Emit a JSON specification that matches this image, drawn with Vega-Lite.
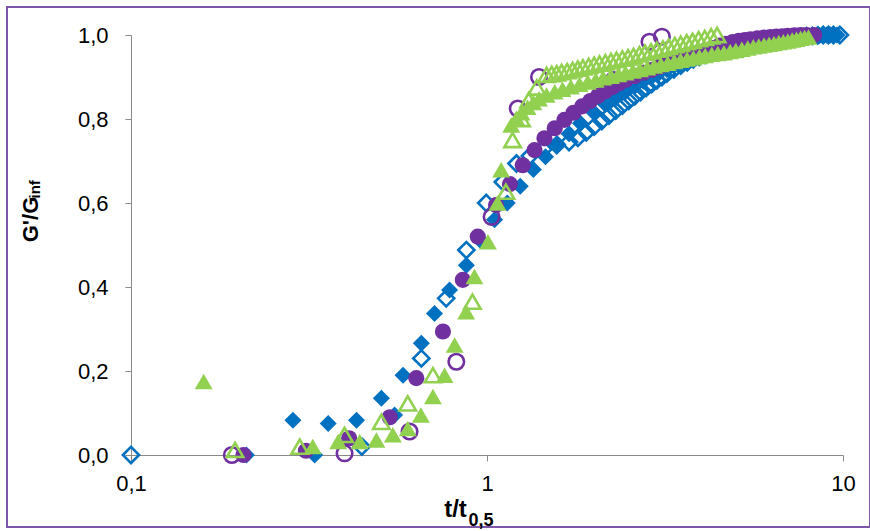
{
  "$schema": "https://vega.github.io/schema/vega-lite/v6.json",
  "width": 863,
  "height": 520,
  "autosize": {"type": "none"},
  "padding": {"left": 7, "top": 7, "right": 0, "bottom": 4},
  "background": "white",
  "config": {
    "view": {"stroke": "#7F57A8", "strokeWidth": 2},
    "axis": {
      "domainColor": "#898989", "tickColor": "#898989", "tickSize": 6, "grid": false,
      "labelFont": "Liberation Sans", "labelFontSize": 22, "labelColor": "#000000",
      "labelOverlap": false, "labelBound": false,
      "titleFont": "Liberation Sans", "titleFontWeight": "bold", "titleColor": "#000000"
    }
  },
  "data": {"values": [
    {"s":"bf","x":0.211,"y":0.0},{"s":"bf","x":0.285,"y":0.083},{"s":"bf","x":0.328,"y":0.0},{"s":"bf","x":0.358,"y":0.075},{"s":"bf","x":0.43,"y":0.083},{"s":"bf","x":0.505,"y":0.135},{"s":"bf","x":0.55,"y":0.095},{"s":"bf","x":0.581,"y":0.19},{"s":"bf","x":0.654,"y":0.266},{"s":"bf","x":0.712,"y":0.337},{"s":"bf","x":0.785,"y":0.393},{"s":"bf","x":0.875,"y":0.452},{"s":"bf","x":0.96,"y":0.51},{"s":"bf","x":1.05,"y":0.56},{"s":"bf","x":1.14,"y":0.6},{"s":"bf","x":1.24,"y":0.64},{"s":"bf","x":1.35,"y":0.68},{"s":"bf","x":1.46,"y":0.71},{"s":"bf","x":1.58,"y":0.74},{"s":"bf","x":1.7,"y":0.765},{"s":"bf","x":1.83,"y":0.79},{"s":"bf","x":2.0,"y":0.815},{"s":"bf","x":2.15,"y":0.835},{"s":"bf","x":2.3,"y":0.85},{"s":"bf","x":2.45,"y":0.865},{"s":"bf","x":2.6,"y":0.878},{"s":"bf","x":2.75,"y":0.89},{"s":"bf","x":2.9,"y":0.9},{"s":"bf","x":3.05,"y":0.91},{"s":"bf","x":3.2,"y":0.918},{"s":"bf","x":3.35,"y":0.926},{"s":"bf","x":3.5,"y":0.933},{"s":"bf","x":3.65,"y":0.939},{"s":"bf","x":3.8,"y":0.944},{"s":"bf","x":3.95,"y":0.949},{"s":"bf","x":4.1,"y":0.953},{"s":"bf","x":4.25,"y":0.957},{"s":"bf","x":4.4,"y":0.961},{"s":"bf","x":4.55,"y":0.964},{"s":"bf","x":4.7,"y":0.967},{"s":"bf","x":4.85,"y":0.97},{"s":"bf","x":5.0,"y":0.972},{"s":"bf","x":5.2,"y":0.975},{"s":"bf","x":5.4,"y":0.977},{"s":"bf","x":5.6,"y":0.979},{"s":"bf","x":5.8,"y":0.981},{"s":"bf","x":6.0,"y":0.983},{"s":"bf","x":6.2,"y":0.985},{"s":"bf","x":6.4,"y":0.986},{"s":"bf","x":6.6,"y":0.988},{"s":"bf","x":6.8,"y":0.989},{"s":"bf","x":7.0,"y":0.99},{"s":"bf","x":7.2,"y":0.991},{"s":"bf","x":7.4,"y":0.993},{"s":"bf","x":7.6,"y":0.994},{"s":"bf","x":7.8,"y":0.995},{"s":"bf","x":8.0,"y":0.996},{"s":"bf","x":8.2,"y":0.997},{"s":"bf","x":8.4,"y":0.998},{"s":"bf","x":8.6,"y":0.999},{"s":"bf","x":8.8,"y":1.0},{"s":"bf","x":9.0,"y":1.0},{"s":"bf","x":9.2,"y":1.0},{"s":"bf","x":9.4,"y":1.0},{"s":"bf","x":9.62,"y":1.0},
    {"s":"bo","x":0.1,"y":0.0},{"s":"bo","x":0.445,"y":0.02},{"s":"bo","x":0.654,"y":0.23},{"s":"bo","x":0.768,"y":0.373},{"s":"bo","x":0.875,"y":0.488},{"s":"bo","x":0.995,"y":0.6},{"s":"bo","x":1.108,"y":0.65},{"s":"bo","x":1.21,"y":0.694},{"s":"bo","x":1.32,"y":0.712},{"s":"bo","x":1.44,"y":0.728},{"s":"bo","x":1.57,"y":0.738},{"s":"bo","x":1.7,"y":0.745},{"s":"bo","x":1.8,"y":0.755},{"s":"bo","x":1.9,"y":0.768},{"s":"bo","x":2.0,"y":0.782},{"s":"bo","x":2.1,"y":0.795},{"s":"bo","x":2.2,"y":0.808},{"s":"bo","x":2.3,"y":0.82},{"s":"bo","x":2.4,"y":0.832},{"s":"bo","x":2.5,"y":0.843},{"s":"bo","x":2.6,"y":0.854},{"s":"bo","x":2.7,"y":0.864},{"s":"bo","x":2.8,"y":0.874},{"s":"bo","x":2.9,"y":0.883},{"s":"bo","x":3.0,"y":0.892},{"s":"bo","x":3.1,"y":0.9},{"s":"bo","x":3.2,"y":0.908},{"s":"bo","x":3.35,"y":0.918},{"s":"bo","x":3.5,"y":0.927},{"s":"bo","x":3.65,"y":0.935},{"s":"bo","x":3.8,"y":0.942},{"s":"bo","x":3.95,"y":0.948},{"s":"bo","x":4.1,"y":0.953},{"s":"bo","x":4.3,"y":0.959},{"s":"bo","x":4.5,"y":0.964},{"s":"bo","x":4.7,"y":0.968},{"s":"bo","x":4.9,"y":0.972},{"s":"bo","x":5.1,"y":0.975},{"s":"bo","x":5.3,"y":0.977},{"s":"bo","x":5.5,"y":0.979},{"s":"bo","x":5.8,"y":0.982},{"s":"bo","x":6.1,"y":0.985},{"s":"bo","x":6.4,"y":0.987},{"s":"bo","x":6.7,"y":0.989},{"s":"bo","x":7.0,"y":0.991},{"s":"bo","x":7.3,"y":0.993},{"s":"bo","x":7.6,"y":0.995},{"s":"bo","x":7.9,"y":0.997},{"s":"bo","x":8.2,"y":0.998},{"s":"bo","x":8.5,"y":0.999},{"s":"bo","x":8.8,"y":1.0},{"s":"bo","x":9.1,"y":1.0},{"s":"bo","x":9.4,"y":1.0},{"s":"bo","x":9.8,"y":1.0},
    {"s":"pf","x":0.207,"y":0.0},{"s":"pf","x":0.31,"y":0.01},{"s":"pf","x":0.41,"y":0.04},{"s":"pf","x":0.533,"y":0.09},{"s":"pf","x":0.633,"y":0.183},{"s":"pf","x":0.752,"y":0.294},{"s":"pf","x":0.855,"y":0.417},{"s":"pf","x":0.942,"y":0.52},{"s":"pf","x":1.06,"y":0.595},{"s":"pf","x":1.16,"y":0.645},{"s":"pf","x":1.26,"y":0.69},{"s":"pf","x":1.36,"y":0.726},{"s":"pf","x":1.45,"y":0.754},{"s":"pf","x":1.55,"y":0.778},{"s":"pf","x":1.65,"y":0.798},{"s":"pf","x":1.75,"y":0.815},{"s":"pf","x":1.85,"y":0.83},{"s":"pf","x":1.95,"y":0.843},{"s":"pf","x":2.05,"y":0.855},{"s":"pf","x":2.15,"y":0.866},{"s":"pf","x":2.25,"y":0.876},{"s":"pf","x":2.35,"y":0.885},{"s":"pf","x":2.45,"y":0.893},{"s":"pf","x":2.6,"y":0.902},{"s":"pf","x":2.75,"y":0.91},{"s":"pf","x":2.9,"y":0.917},{"s":"pf","x":3.05,"y":0.924},{"s":"pf","x":3.2,"y":0.93},{"s":"pf","x":3.35,"y":0.936},{"s":"pf","x":3.5,"y":0.942},{"s":"pf","x":3.7,"y":0.949},{"s":"pf","x":3.9,"y":0.956},{"s":"pf","x":4.1,"y":0.963},{"s":"pf","x":4.3,"y":0.969},{"s":"pf","x":4.5,"y":0.975},{"s":"pf","x":4.7,"y":0.979},{"s":"pf","x":4.9,"y":0.983},{"s":"pf","x":5.1,"y":0.986},{"s":"pf","x":5.3,"y":0.988},{"s":"pf","x":5.5,"y":0.99},{"s":"pf","x":5.75,"y":0.992},{"s":"pf","x":6.0,"y":0.994},{"s":"pf","x":6.25,"y":0.995},{"s":"pf","x":6.5,"y":0.996},{"s":"pf","x":6.75,"y":0.997},{"s":"pf","x":7.0,"y":0.998},{"s":"pf","x":7.3,"y":0.999},{"s":"pf","x":7.6,"y":1.0},{"s":"pf","x":7.9,"y":1.0},{"s":"pf","x":8.3,"y":1.0},
    {"s":"po","x":0.192,"y":0.0},{"s":"po","x":0.398,"y":0.004},{"s":"po","x":0.606,"y":0.056},{"s":"po","x":0.82,"y":0.222},{"s":"po","x":1.03,"y":0.567},{"s":"po","x":1.22,"y":0.825},{"s":"po","x":1.4,"y":0.9},{"s":"po","x":2.11,"y":0.874},{"s":"po","x":2.27,"y":0.893},{"s":"po","x":2.86,"y":0.984},{"s":"po","x":3.1,"y":0.996},
    {"s":"gf","x":0.16,"y":0.175},{"s":"gf","x":0.324,"y":0.02},{"s":"gf","x":0.382,"y":0.032},{"s":"gf","x":0.439,"y":0.032},{"s":"gf","x":0.489,"y":0.036},{"s":"gf","x":0.544,"y":0.048},{"s":"gf","x":0.599,"y":0.063},{"s":"gf","x":0.652,"y":0.095},{"s":"gf","x":0.705,"y":0.139},{"s":"gf","x":0.76,"y":0.19},{"s":"gf","x":0.811,"y":0.262},{"s":"gf","x":0.874,"y":0.341},{"s":"gf","x":0.922,"y":0.425},{"s":"gf","x":1.006,"y":0.508},{"s":"gf","x":1.07,"y":0.6},{"s":"gf","x":1.096,"y":0.679},{"s":"gf","x":1.17,"y":0.786},{"s":"gf","x":1.21,"y":0.802},{"s":"gf","x":1.25,"y":0.815},{"s":"gf","x":1.3,"y":0.828},{"s":"gf","x":1.35,"y":0.839},{"s":"gf","x":1.4,"y":0.848},{"s":"gf","x":1.47,"y":0.857},{"s":"gf","x":1.55,"y":0.865},{"s":"gf","x":1.63,"y":0.871},{"s":"gf","x":1.72,"y":0.877},{"s":"gf","x":1.82,"y":0.883},{"s":"gf","x":1.92,"y":0.888},{"s":"gf","x":2.02,"y":0.893},{"s":"gf","x":2.12,"y":0.898},{"s":"gf","x":2.23,"y":0.902},{"s":"gf","x":2.34,"y":0.906},{"s":"gf","x":2.45,"y":0.91},{"s":"gf","x":2.57,"y":0.914},{"s":"gf","x":2.69,"y":0.918},{"s":"gf","x":2.82,"y":0.922},{"s":"gf","x":2.95,"y":0.926},{"s":"gf","x":3.08,"y":0.93},{"s":"gf","x":3.22,"y":0.933},{"s":"gf","x":3.36,"y":0.937},{"s":"gf","x":3.5,"y":0.94},{"s":"gf","x":3.65,"y":0.943},{"s":"gf","x":3.8,"y":0.946},{"s":"gf","x":3.95,"y":0.949},{"s":"gf","x":4.1,"y":0.951},{"s":"gf","x":4.28,"y":0.954},{"s":"gf","x":4.45,"y":0.956},{"s":"gf","x":4.63,"y":0.958},{"s":"gf","x":4.82,"y":0.961},{"s":"gf","x":5.0,"y":0.963},{"s":"gf","x":5.2,"y":0.966},{"s":"gf","x":5.4,"y":0.969},{"s":"gf","x":5.6,"y":0.972},{"s":"gf","x":5.8,"y":0.974},{"s":"gf","x":6.0,"y":0.976},{"s":"gf","x":6.2,"y":0.978},{"s":"gf","x":6.4,"y":0.98},{"s":"gf","x":6.6,"y":0.982},{"s":"gf","x":6.8,"y":0.984},{"s":"gf","x":7.0,"y":0.986},{"s":"gf","x":7.2,"y":0.988},{"s":"gf","x":7.4,"y":0.99},{"s":"gf","x":7.6,"y":0.992},{"s":"gf","x":7.8,"y":0.994},{"s":"gf","x":8.0,"y":0.995},
    {"s":"go","x":0.196,"y":0.012},{"s":"go","x":0.298,"y":0.02},{"s":"go","x":0.398,"y":0.048},{"s":"go","x":0.505,"y":0.079},{"s":"go","x":0.599,"y":0.123},{"s":"go","x":0.705,"y":0.19},{"s":"go","x":0.91,"y":0.365},{"s":"go","x":1.13,"y":0.627},{"s":"go","x":1.18,"y":0.75},{"s":"go","x":1.25,"y":0.8},{"s":"go","x":1.31,"y":0.845},{"s":"go","x":1.38,"y":0.875},{"s":"go","x":1.47,"y":0.905},{"s":"go","x":1.52,"y":0.907},{"s":"go","x":1.57,"y":0.909},{"s":"go","x":1.62,"y":0.912},{"s":"go","x":1.68,"y":0.914},{"s":"go","x":1.74,"y":0.917},{"s":"go","x":1.8,"y":0.92},{"s":"go","x":1.86,"y":0.923},{"s":"go","x":1.93,"y":0.926},{"s":"go","x":2.0,"y":0.929},{"s":"go","x":2.07,"y":0.932},{"s":"go","x":2.15,"y":0.935},{"s":"go","x":2.23,"y":0.938},{"s":"go","x":2.31,"y":0.941},{"s":"go","x":2.4,"y":0.944},{"s":"go","x":2.49,"y":0.947},{"s":"go","x":2.58,"y":0.95},{"s":"go","x":2.68,"y":0.954},{"s":"go","x":2.78,"y":0.958},{"s":"go","x":2.89,"y":0.961},{"s":"go","x":3.0,"y":0.965},{"s":"go","x":3.12,"y":0.968},{"s":"go","x":3.24,"y":0.972},{"s":"go","x":3.37,"y":0.976},{"s":"go","x":3.5,"y":0.979},{"s":"go","x":3.64,"y":0.983},{"s":"go","x":3.78,"y":0.986},{"s":"go","x":3.93,"y":0.99},{"s":"go","x":4.09,"y":0.993},{"s":"go","x":4.26,"y":0.997},{"s":"go","x":4.43,"y":1.0}
  ]},
  "layer": [
    {
      "transform": [{"filter": "datum.s === 'bf'"}],
      "mark": {"type": "point", "shape": "diamond", "filled": true, "color": "#0070C0", "size": 290, "opacity": 1},
      "encoding": {
        "x": {"field": "x", "type": "quantitative",
              "scale": {"type": "log", "domain": [0.1, 10], "range": [124, 836], "nice": false},
              "axis": {"orient": "bottom", "offset": -72, "values": [0.1, 1, 10],
                       "labelExpr": "replace(format(datum.value, '~g'), '.', ',')",
                       "labelFlush": false, "labelPadding": 12,
                       "title": "t/t", "titleFontSize": 24, "titleAlign": "center", "titleBaseline": "alphabetic",
                       "titleX": 448, "titleY": 61}},
        "y": {"field": "y", "type": "quantitative",
              "scale": {"domain": [0, 1], "range": [448, 28], "nice": false, "zero": false},
              "axis": {"orient": "left", "offset": -124, "values": [0, 0.2, 0.4, 0.6, 0.8, 1],
                       "labelExpr": "replace(format(datum.value, '.1f'), '.', ',')",
                       "labelPadding": 17,
                       "title": "G'/G", "titleFontSize": 22, "titleAngle": 270, "titleAlign": "center", "titleBaseline": "alphabetic",
                       "titleX": -94, "titleY": 212}}
      }
    },
    {
      "transform": [{"filter": "datum.s === 'bo'"}],
      "mark": {"type": "point", "shape": "diamond", "filled": false, "color": "#0070C0", "size": 260, "strokeWidth": 2.6, "opacity": 1},
      "encoding": {
        "x": {"field": "x", "type": "quantitative",
              "scale": {"type": "log", "domain": [0.1, 10], "range": [124, 836], "nice": false},
              "axis": {"orient": "bottom", "offset": -72, "domain": false, "ticks": false, "labels": false,
                       "title": "0,5", "titleFontSize": 18, "titleAlign": "left", "titleBaseline": "alphabetic",
                       "titleX": 461, "titleY": 70}},
        "y": {"field": "y", "type": "quantitative",
              "scale": {"domain": [0, 1], "range": [448, 28], "nice": false, "zero": false},
              "axis": null}
      }
    },
    {
      "transform": [{"filter": "datum.s === 'pf'"}],
      "mark": {"type": "point", "shape": "circle", "filled": true, "color": "#7030A0", "size": 260, "opacity": 1},
      "encoding": {
        "x": {"field": "x", "type": "quantitative",
              "scale": {"type": "log", "domain": [0.1, 10], "range": [124, 836], "nice": false},
              "axis": null},
        "y": {"field": "y", "type": "quantitative",
              "scale": {"domain": [0, 1], "range": [448, 28], "nice": false, "zero": false},
              "axis": {"orient": "left", "offset": -124, "domain": false, "ticks": false, "labels": false,
                       "title": "inf", "titleFontSize": 15, "titleAngle": 270, "titleAlign": "left", "titleBaseline": "alphabetic",
                       "titleX": -92, "titleY": 191}}
      }
    },
    {
      "transform": [{"filter": "datum.s === 'po'"}],
      "mark": {"type": "point", "shape": "circle", "filled": false, "color": "#7030A0", "size": 240, "strokeWidth": 2.6, "opacity": 1},
      "encoding": {
        "x": {"field": "x", "type": "quantitative",
              "scale": {"type": "log", "domain": [0.1, 10], "range": [124, 836], "nice": false}, "axis": null},
        "y": {"field": "y", "type": "quantitative",
              "scale": {"domain": [0, 1], "range": [448, 28], "nice": false, "zero": false}, "axis": null}
      }
    },
    {
      "transform": [{"filter": "datum.s === 'gf'"}],
      "mark": {"type": "point", "shape": "triangle-up", "filled": true, "color": "#92D050", "size": 320, "opacity": 1},
      "encoding": {
        "x": {"field": "x", "type": "quantitative",
              "scale": {"type": "log", "domain": [0.1, 10], "range": [124, 836], "nice": false}, "axis": null},
        "y": {"field": "y", "type": "quantitative",
              "scale": {"domain": [0, 1], "range": [448, 28], "nice": false, "zero": false}, "axis": null}
      }
    },
    {
      "transform": [{"filter": "datum.s === 'go'"}],
      "mark": {"type": "point", "shape": "triangle-up", "filled": false, "color": "#92D050", "size": 270, "strokeWidth": 2.6, "opacity": 1},
      "encoding": {
        "x": {"field": "x", "type": "quantitative",
              "scale": {"type": "log", "domain": [0.1, 10], "range": [124, 836], "nice": false}, "axis": null},
        "y": {"field": "y", "type": "quantitative",
              "scale": {"domain": [0, 1], "range": [448, 28], "nice": false, "zero": false}, "axis": null}
      }
    }
  ],
  "resolve": {"axis": {"x": "independent", "y": "independent"}}
}
